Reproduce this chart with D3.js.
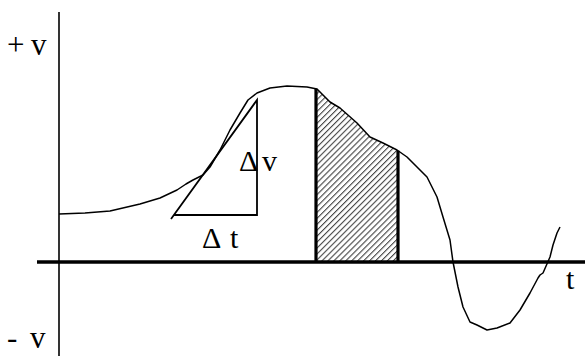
<!DOCTYPE html>
<html><head><meta charset="utf-8">
<script src="https://cdn.jsdelivr.net/npm/d3@7"></script>
<style>body{margin:0;background:#fff}svg{display:block}</style>
</head><body>
<svg id="c" width="585" height="356"></svg>
<script>
// curve samples: time t and velocity v (arbitrary units)
const curveT = [0, 5.2, 10.2, 16.2, 20.2, 23.6, 25.4, 26.8, 28.8, 30.2, 32.2, 34.2, 36.2, 37.8, 39.6, 42.2, 45.6, 49.6, 51.6, 54.2, 56.2, 59.6, 62.2, 64.8, 67.6, 69.6, 71.6, 73.6, 75.6, 76.8, 78.2, 78.8, 79.8, 80.8, 82.2, 83.6, 85.6, 87.6, 90.2, 92.2, 94.2, 95.8, 96.2, 96.8, 98.2, 98.8, 99.6, 100.2];
const curveV = [24, 24.5, 25.5, 29, 32, 36, 39, 41, 43.5, 47.5, 56, 66, 74.5, 81, 84.5, 87, 88, 87.5, 86.5, 80, 77, 69.5, 62.5, 59.5, 56, 52.5, 47.5, 42.5, 32.5, 22.5, 11, 0, -12.5, -22.5, -30, -31.5, -34, -33, -30.5, -24, -15.5, -8, -6.5, -5.5, 2.5, 8.5, 14.5, 17.5];
// shaded interval (area under curve)
const shadeT = [51.4, 67.8];
// tangent triangle: corners
const triT = [22.6, 39.6, 39.6];
const triV = [23.5, 81, 23.5];
// labels: each split into its two glyph groups
const labelPlusV = ["+", "v"];
const labelMinusV = ["-", "v"];
const labelT = "t";
const labelDv = ["Δ", "v"];
const labelDt = ["Δ", "t"];

const svg = d3.select("#c");
const x = d3.scaleLinear().domain([0, 100]).range([59, 559]);
const y = d3.scaleLinear().domain([0, 100]).range([262, 62]);

const pts = curveT.map((t, i) => [t, curveV[i]]);
const interp = t => {
  for (let i = 0; i < pts.length - 1; i++) {
    if (t >= pts[i][0] && t <= pts[i + 1][0]) {
      const f = (t - pts[i][0]) / (pts[i + 1][0] - pts[i][0]);
      return pts[i][1] + f * (pts[i + 1][1] - pts[i][1]);
    }
  }
  return 0;
};

// hatch pattern
const defs = svg.append("defs");
const pat = defs.append("pattern").attr("id", "hatch").attr("patternUnits", "userSpaceOnUse")
  .attr("width", 4.2).attr("height", 4.2).attr("patternTransform", "rotate(45)");
pat.append("rect").attr("width", 4.2).attr("height", 4.2).attr("fill", "#fff");
pat.append("line").attr("x1", 0).attr("y1", 0).attr("x2", 0).attr("y2", 4.2)
  .attr("stroke", "#444").attr("stroke-width", 2.2);

// shaded area
const shadePts = [[shadeT[0], interp(shadeT[0])]]
  .concat(pts.filter(p => p[0] > shadeT[0] && p[0] < shadeT[1]))
  .concat([[shadeT[1], interp(shadeT[1])]]);
svg.append("path")
  .datum(shadePts)
  .attr("d", d3.area().x(d => x(d[0])).y0(y(0)).y1(d => y(d[1])))
  .attr("fill", "url(#hatch)");

// axes
svg.append("line").attr("x1", x(0)).attr("x2", x(0)).attr("y1", 12).attr("y2", 356)
  .attr("stroke", "#000").attr("stroke-width", 1.6);
svg.append("line").attr("x1", 37).attr("x2", 585).attr("y1", y(0)).attr("y2", y(0))
  .attr("stroke", "#000").attr("stroke-width", 3.5);

// shade boundaries
shadeT.forEach(t => {
  svg.append("line").attr("x1", x(t)).attr("x2", x(t)).attr("y1", y(interp(t))).attr("y2", y(0))
    .attr("stroke", "#000").attr("stroke-width", 3.2);
});

// curve
svg.append("path").datum(pts)
  .attr("d", d3.line().x(d => x(d[0])).y(d => y(d[1])))
  .attr("fill", "none").attr("stroke", "#000").attr("stroke-width", 1.5).attr("stroke-linejoin", "round");

// triangle
svg.append("path")
  .attr("d", `M${x(triT[0]) - 1},${y(triV[0]) + 4}L${x(triT[1])},${y(triV[1])}L${x(triT[2])},${y(triV[2])}L${x(triT[0]) + 2},${y(triV[2])}`)
  .attr("fill", "none").attr("stroke", "#000").attr("stroke-width", 1.8);

// labels
const font = "'Liberation Serif', 'Times New Roman', serif";
const T2 = (parts, xs, yy, fs) => {
  const t = svg.append("text").attr("y", yy)
    .attr("font-family", font).attr("font-size", fs).attr("fill", "#000");
  parts.forEach((p, i) => t.append("tspan").attr("x", xs[i]).text(p));
};
T2(labelPlusV, [7, 31], 55, 31);
T2(labelMinusV, [7, 30], 348, 31);
T2([labelT], [566], 289, 30);
T2(labelDv, [239, 262], 171, 30);
T2(labelDt, [202, 230], 248, 30);
</script>
</body></html>
